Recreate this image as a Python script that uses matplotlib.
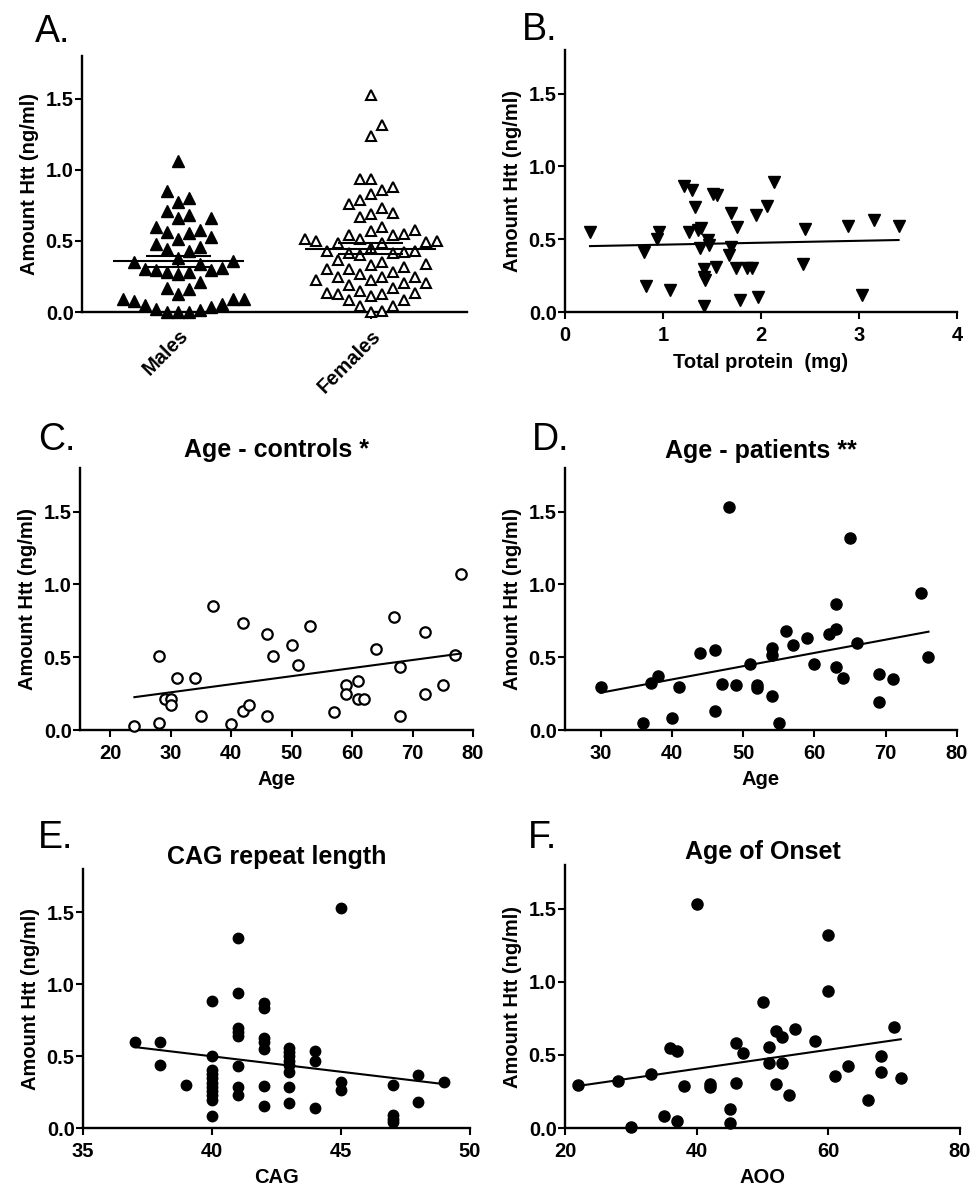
import numpy as np
import matplotlib
matplotlib.use('Agg')
import matplotlib.pyplot as plt

plt.rcParams['font.family'] = ['Liberation Sans', 'DejaVu Sans']
plt.rcParams['font.weight'] = 'bold'
plt.rcParams['axes.labelweight'] = 'bold'

# ---- data ----
# A: Htt by sex
males = [1.065, 0.85, 0.80, 0.77, 0.71, 0.68, 0.66, 0.66, 0.58, 0.60, 0.555, 0.565,
         0.525, 0.51, 0.48, 0.445, 0.43, 0.455, 0.38, 0.36, 0.34, 0.35, 0.31, 0.295,
         0.28, 0.27, 0.28, 0.295, 0.305, 0.21, 0.16, 0.17, 0.125, 0.09, 0.075, 0.047,
         0.024, 0.0, 0.0, 0.0, 0.012, 0.035, 0.058, 0.09, 0.09]
females = [1.528, 1.316, 1.239, 0.933, 0.936, 0.858, 0.877, 0.83, 0.79, 0.76, 0.73,
           0.686, 0.693, 0.67, 0.595, 0.58, 0.569, 0.545, 0.54, 0.54, 0.51, 0.50,
           0.494, 0.482, 0.482, 0.50, 0.51, 0.43, 0.423, 0.416, 0.447, 0.43, 0.416,
           0.40, 0.369, 0.353, 0.33, 0.34, 0.30, 0.28, 0.317, 0.30, 0.265, 0.247,
           0.247, 0.247, 0.223, 0.205, 0.228, 0.205, 0.188, 0.172, 0.134, 0.13, 0.13,
           0.134, 0.148, 0.11, 0.082, 0.082, 0.04, 0.0, 0.007, 0.04]
sex_labels = ['Males', 'Females']

# B: total protein
protein = [0.255, 0.807, 0.824, 0.936, 0.963, 1.072, 1.215, 1.294, 1.328, 1.27, 1.362,
           1.389, 1.379, 1.423, 1.42, 1.426, 1.423, 1.457, 1.474, 1.515, 1.556, 1.539,
           1.692, 1.692, 1.671, 1.76, 1.746, 1.787, 1.855, 1.906, 1.95, 1.968, 2.066,
           2.128, 2.427, 2.451, 2.887, 3.03, 3.149, 3.404]
htt_protein = [0.547, 0.41, 0.177, 0.50, 0.552, 0.154, 0.867, 0.835, 0.72, 0.547, 0.564,
               0.58, 0.437, 0.292, 0.24, 0.223, 0.041, 0.495, 0.46, 0.812, 0.805, 0.31,
               0.68, 0.444, 0.39, 0.587, 0.30, 0.08, 0.30, 0.30, 0.667, 0.104, 0.725,
               0.89, 0.33, 0.568, 0.591, 0.115, 0.633, 0.591]

# C: age, controls
age_ctrl = [24, 28, 28, 29, 30, 30, 31, 34, 35, 37, 40, 42, 42, 43, 46, 46, 47, 50, 51,
            53, 57, 59, 59, 61, 61, 62, 64, 67, 68, 68, 72, 72, 75, 77, 78]
htt_ctrl = [0.027, 0.51, 0.046, 0.21, 0.21, 0.17, 0.355, 0.36, 0.096, 0.854, 0.039,
            0.733, 0.133, 0.17, 0.66, 0.096, 0.51, 0.584, 0.444, 0.714, 0.126, 0.307,
            0.245, 0.337, 0.215, 0.215, 0.559, 0.774, 0.43, 0.096, 0.671, 0.247, 0.307,
            0.515, 1.069]

# D: age, patients
age_pat = [30, 36, 37, 38, 40, 41, 44, 46, 46, 47, 48, 49, 51, 52, 52, 54, 54, 54, 55,
           56, 57, 59, 60, 62, 63, 63, 63, 64, 65, 66, 69, 69, 71, 75, 76]
htt_pat = [0.298, 0.05, 0.32, 0.37, 0.082, 0.298, 0.527, 0.55, 0.133, 0.316, 1.53,
           0.309, 0.451, 0.309, 0.286, 0.561, 0.515, 0.234, 0.046, 0.682, 0.584, 0.63,
           0.451, 0.66, 0.863, 0.694, 0.43, 0.36, 1.321, 0.595, 0.382, 0.195, 0.348,
           0.943, 0.499]

# E: CAG repeat length
cag = [37, 38, 38, 39,
       40, 40, 40, 40, 40, 40, 40, 40, 40, 40, 40,
       41, 41, 41, 41, 41, 41, 41, 41,
       42, 42, 42, 42, 42, 42, 42,
       43, 43, 43, 43, 43, 43, 43, 43,
       44, 44, 44, 45, 45, 45, 47, 47, 47, 47, 48, 48, 49]
htt_cag = [0.596, 0.596, 0.438, 0.299,
           0.881, 0.498, 0.406, 0.376, 0.346, 0.316, 0.286, 0.256, 0.226, 0.197, 0.086,
           1.317, 0.939, 0.696, 0.667, 0.638, 0.434, 0.283, 0.228,
           0.869, 0.835, 0.626, 0.596, 0.55, 0.294, 0.151,
           0.556, 0.527, 0.498, 0.469, 0.44, 0.387, 0.285, 0.174,
           0.533, 0.464, 0.139, 1.526, 0.32, 0.267, 0.299, 0.093, 0.063, 0.039,
           0.371, 0.179, 0.32]

# F: age of onset
aoo = [22, 28, 30, 33, 35, 36, 37, 37, 38, 40, 42, 42, 45, 45, 46, 46, 47, 50, 51, 51,
       52, 52, 53, 53, 54, 55, 58, 60, 60, 61, 63, 66, 68, 68, 70, 71]
htt_aoo = [0.293, 0.32, 0.007, 0.368, 0.08, 0.549, 0.526, 0.046, 0.29, 1.534, 0.304,
           0.281, 0.128, 0.037, 0.585, 0.311, 0.51, 0.86, 0.556, 0.448, 0.663, 0.30,
           0.62, 0.448, 0.229, 0.677, 0.597, 1.322, 0.938, 0.354, 0.425, 0.19, 0.494,
           0.38, 0.693, 0.345]

yticks = [0.0, 0.5, 1.0, 1.5]
ylabel = 'Amount Htt (ng/ml)'

W, H = 973, 1188
fig = plt.figure(figsize=(W / 100, H / 100), dpi=100)


def rect(l, t, r, b):
    return [l / W, 1 - b / H, (r - l) / W, (b - t) / H]


def style(ax):
    for s in ['top', 'right']:
        ax.spines[s].set_visible(False)
    for s in ['left', 'bottom']:
        ax.spines[s].set_linewidth(1.7)
    ax.tick_params(width=1.5, length=5, labelsize=14.5)
    ax.tick_params(axis='x', pad=5)
    ax.tick_params(axis='y', pad=1)
    ax.set_ylim(0, 1.8)
    ax.set_yticks(yticks)
    ax.set_yticklabels(['%.1f' % v for v in yticks])
    ax.set_ylabel(ylabel, fontsize=14.5, labelpad=5)


def letter(x, y, s):
    fig.text(x / W, 1 - y / H, s, fontsize=27, fontweight='normal', va='baseline')


def swarm(ax, xc, vals, w_px, h_px):
    # Prism-like column scatter: go up through the values and put each point
    # in the free slot nearest the centre (slots are one marker wide)
    pts = ax.transData.transform(np.column_stack([np.full(len(vals), xc), vals]))
    ys = pts[:, 1]
    order = np.argsort(ys, kind='stable')
    placed = []
    off = np.zeros(len(vals))
    slots = [0]
    for k in range(1, 30):
        slots += [k, -k]
    for i in order:
        y = ys[i]
        for s in slots:
            c = s * w_px
            if all(abs(c - px) >= w_px * 0.99 or abs(y - py) >= h_px for px, py in placed):
                break
        off[i] = c
        placed.append((c, y))
    back = ax.transData.inverted().transform(np.column_stack([pts[:, 0] + off, ys]))
    return back[:, 0]


def fit_line(ax, x, y):
    x = np.asarray(x, float)
    k, b = np.polyfit(x, y, 1)
    xs = np.array([x.min(), x.max()])
    ax.plot(xs, k * xs + b, color='black', lw=1.5, zorder=4)


# ---- A ----
axA = fig.add_axes(rect(82, 56, 467, 312))
style(axA)
axA.set_xlim(-0.5, 1.5)
axA.set_xticks([0, 1])
axA.set_xticklabels(sex_labels, rotation=45, ha='right', rotation_mode='anchor', fontsize=14.5)
for i, vals in enumerate([males, females]):
    xs = swarm(axA, i, vals, 11.0, 15.0)
    if i == 0:
        axA.plot(xs, vals, '^', color='black', ms=8, clip_on=False, zorder=3)
    else:
        axA.plot(xs, vals, '^', mfc='white', mec='black', mew=1.5, ms=7.5,
                 clip_on=False, zorder=3)
    m = np.mean(vals)
    sem = np.std(vals, ddof=1) / np.sqrt(len(vals))
    axA.hlines(m, i - 0.34, i + 0.34, color='black', lw=1.5, zorder=4)
    axA.hlines([m - sem, m + sem], i - 0.17, i + 0.17, color='black', lw=1.5, zorder=4)
    axA.vlines(i, m - sem, m + sem, color='black', lw=1.5, zorder=4)
letter(35, 42, 'A.')

# ---- B ----
axB = fig.add_axes(rect(565, 50, 957, 312))
style(axB)
axB.set_xlim(0, 4)
axB.set_xticks([0, 1, 2, 3, 4])
axB.plot(protein, htt_protein, 'v', color='black', ms=8.5, clip_on=False, zorder=3)
fit_line(axB, protein, htt_protein)
axB.set_xlabel('Total protein  (mg)', fontsize=14.5, labelpad=6)
letter(522, 40, 'B.')

# ---- C ----
axC = fig.add_axes(rect(80, 468, 473, 730))
style(axC)
axC.set_xlim(15, 80)
axC.set_xticks(range(20, 81, 10))
axC.plot(age_ctrl, htt_ctrl, 'o', mfc='white', mec='black', mew=1.6, ms=7.5,
         clip_on=False, zorder=3)
fit_line(axC, age_ctrl, htt_ctrl)
axC.set_xlabel('Age', fontsize=14.5, labelpad=5)
axC.set_title('Age - controls *', fontsize=18, fontweight='bold', pad=8)
letter(38, 450, 'C.')

# ---- D ----
axD = fig.add_axes(rect(565, 468, 957, 730))
style(axD)
axD.set_xlim(25, 80)
axD.set_xticks(range(30, 81, 10))
axD.plot(age_pat, htt_pat, 'o', color='black', ms=8, clip_on=False, zorder=3)
fit_line(axD, age_pat, htt_pat)
axD.set_xlabel('Age', fontsize=14.5, labelpad=5)
axD.set_title('Age - patients **', fontsize=18, fontweight='bold', pad=7)
letter(532, 450, 'D.')

# ---- E ----
axE = fig.add_axes(rect(83, 869, 470, 1128))
style(axE)
axE.set_xlim(35, 50)
axE.set_xticks(range(35, 51, 5))
axE.plot(cag, htt_cag, 'o', color='black', ms=7.5, clip_on=False, zorder=3)
fit_line(axE, cag, htt_cag)
axE.set_xlabel('CAG', fontsize=14.5, labelpad=5)
axE.set_title('CAG repeat length', fontsize=18, fontweight='bold', pad=2)
letter(38, 848, 'E.')

# ---- F ----
axF = fig.add_axes(rect(565, 865, 960, 1128))
style(axF)
axF.set_xlim(20, 80)
axF.set_xticks(range(20, 81, 20))
axF.plot(aoo, htt_aoo, 'o', color='black', ms=8, clip_on=False, zorder=3)
fit_line(axF, aoo, htt_aoo)
axF.set_xlabel('AOO', fontsize=14.5, labelpad=5)
axF.set_title('Age of Onset', fontsize=18, fontweight='bold', pad=4)
letter(528, 848, 'F.')

fig.savefig('out.png', dpi=100)
